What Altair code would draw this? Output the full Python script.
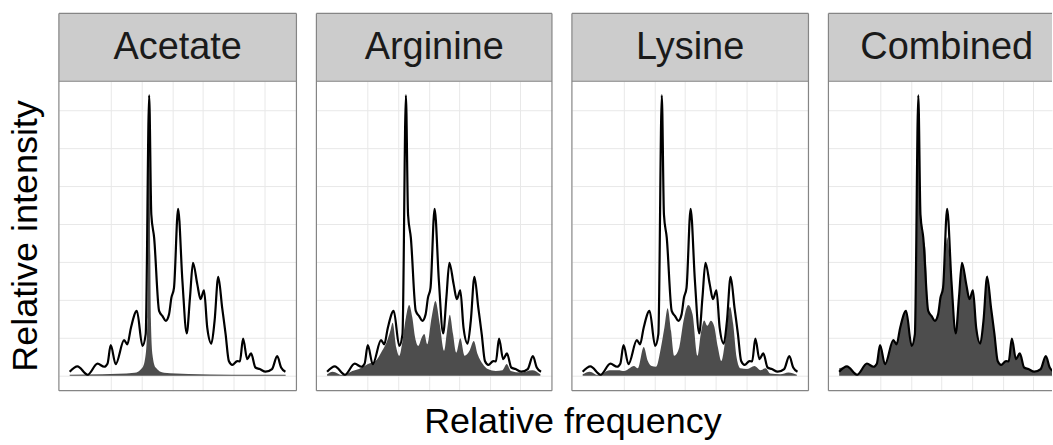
import altair as alt
import pandas as pd

panel_names = ["Acetate", "Arginine", "Lysine", "Combined"]
panel_widths = [238, 236, 237, 224]      # visible plot widths (last panel is cut by the page edge)
full_widths = [238, 236, 237, 237]       # nominal widths (for scale and strip label centring)

# observed spectrum (black line), shared by all panels
line_x = [0, 3.6, 8.3, 12.9, 16.0, 17.5, 19.0, 21.3, 25.2, 26.7, 28.3, 31.1, 33.7, 35.2, 36.8, 37.8, 39.1, 41.4, 42.9, 44.5,
          46.0, 47.1, 48.3, 50.2, 52.2, 54.2, 55.7, 57.1, 59.1, 60.6, 62.2, 63.7, 65.6, 67.1, 68.8, 70.6, 72.2, 73.7, 75.3, 77.6,
          78.8, 80.3, 82.2, 84.0, 86.0, 88.0, 90.7, 93.7, 96.1, 97.9, 99.9]
line_y = [0.11, 0.25, 0.03, 0.32, 0.24, 0.32, 0.81, 0.31, 0.94, 0.83, 1.25, 1.71, 0.79, 1.10, 7.39, 4.25, 3.64, 1.71, 1.58, 1.45,
          1.62, 2.06, 2.32, 4.40, 2.50, 1.12, 2.06, 2.98, 2.41, 2.02, 2.25, 1.27, 0.85, 1.45, 2.61, 1.80, 1.10, 0.39, 0.29, 0.39,
          0.38, 0.98, 0.44, 0.59, 0.22, 0.18, 0.11, 0.18, 0.52, 0.22, 0.11]

# simulated spectra (grey areas)
acetate_x = [0, 15, 30, 33.7, 35.2, 36.0, 36.8, 37.6, 38.3, 39.8, 43.7, 55, 75, 100]
acetate_y = [0.03, 0.04, 0.08, 0.22, 0.57, 1.5, 7.3, 1.5, 0.57, 0.22, 0.08, 0.05, 0.03, 0.03]

arginine_x = [0, 2.6, 7.2, 11.8, 14.9, 19.1, 22.6, 25.7, 28.0, 29.5, 30.6, 32.3, 33.7, 35.2, 36.8, 38.3, 39.8, 41.1, 42.6, 44.2,
              45.4, 46.8, 48.8, 50.6, 52.6, 54.6, 56.0, 57.3, 58.8, 60.3, 62.2, 64.2, 66.5, 68.5, 70.3, 72.7, 75.0, 78.8, 81.9, 83.9,
              85.8, 90.4, 95.8, 99.6]
arginine_y = [0.04, 0.11, 0.02, 0.13, 0.18, 0.31, 0.39, 0.66, 0.92, 1.18, 1.40, 0.75, 0.53, 0.92, 1.54, 1.87, 1.54, 1.01, 0.79, 1.01,
              1.10, 0.83, 1.54, 1.97, 1.36, 0.66, 1.18, 1.61, 1.10, 0.61, 0.99, 0.53, 0.66, 0.92, 0.57, 0.31, 0.18, 0.13, 0.15, 0.31,
              0.13, 0.09, 0.15, 0.04]

lysine_x = [0, 3.3, 7.2, 12.6, 16.4, 19.5, 21.8, 23.8, 25.7, 28.4, 30.3, 32.1, 34.1, 36.4, 38.0, 39.5, 41.1, 42.6, 44.9, 46.9,
            49.1, 51.1, 53.4, 54.9, 56.5, 58.0, 59.6, 61.1, 62.9, 64.5, 66.5, 68.5, 70.0, 71.6, 73.4, 76.5, 79.9, 82.7, 85.0, 87.3,
            91.9, 95.7, 99.6]
lysine_y = [0.04, 0.11, 0.02, 0.15, 0.15, 0.13, 0.20, 0.26, 0.20, 0.76, 0.39, 0.26, 0.24, 0.75, 1.27, 1.78, 1.18, 0.53, 0.75, 1.45,
            1.87, 1.62, 0.53, 1.10, 1.46, 1.32, 1.45, 1.32, 0.75, 0.39, 1.01, 1.82, 1.36, 0.48, 0.20, 0.18, 0.26, 0.15, 0.20, 0.06,
            0.04, 0.09, 0.03]

combined_x = [0, 3.6, 8.3, 12.9, 16.0, 17.5, 19.0, 21.3, 25.2, 26.7, 28.3, 31.1, 33.7, 35.2, 36.8, 37.8, 39.1, 40.0, 41.4, 42.9,
              44.5, 46.0, 47.1, 48.3, 50.2, 52.2, 54.2, 55.7, 57.1, 59.1, 60.6, 62.2, 63.7, 65.6, 67.1, 68.8, 70.6, 72.2, 73.7, 75.3,
              77.6, 78.8, 80.3, 82.2, 84.0, 86.0, 88.0, 90.7, 93.7, 96.1, 97.9, 99.9]
combined_y = [0.2, 0.24, 0.05, 0.3, 0.24, 0.3, 0.78, 0.3, 0.92, 0.83, 1.27, 1.70, 0.78, 1.08, 6.9, 4.2, 3.6, 3.4, 1.72, 1.56,
              1.45, 1.6, 2.0, 2.3, 3.65, 2.45, 1.1, 2.0, 2.9, 2.4, 2.0, 2.2, 1.25, 0.83, 1.43, 2.65, 1.78, 1.08, 0.37, 0.29,
              0.37, 0.38, 0.95, 0.42, 0.57, 0.21, 0.17, 0.11, 0.17, 0.5, 0.21, 0.11]

x_grid = [19.0, 33.3, 47.5, 61.7, 76.0, 90.2]
y_grid = [0, 1, 2, 3, 4, 5, 6, 7]

areas = [(acetate_x, acetate_y), (arginine_x, arginine_y), (lysine_x, lysine_y), (combined_x, combined_y)]

FONT = "Liberation Sans"
BORDER = "#858585"
H = 310
STRIP = 68

line_df = pd.DataFrame({"x": line_x, "y": line_y})
one = pd.DataFrame({"k": [0]})


def rule(x, x2, y, y2):
    return alt.Chart(one).mark_rule(color=BORDER, strokeWidth=1.2).encode(
        x=alt.value(x), x2=alt.value(x2), y=alt.value(y), y2=alt.value(y2)
    )


def panel(i):
    name = panel_names[i]
    w = panel_widths[i]
    fw = full_widths[i]
    gx, gy = areas[i]
    area_df = pd.DataFrame({"x": gx, "y": gy})
    x_hi = -5 + 110 * w / fw
    xs = alt.Scale(domain=[-5, x_hi], nice=False, zero=False)
    ys = alt.Scale(domain=[-0.39, 7.76], nice=False, zero=False)
    xa = alt.Axis(values=x_grid, labels=False, ticks=False, domain=False, title=None, grid=True,
                  gridColor="#E8E8E8", gridWidth=1)
    ya = alt.Axis(values=y_grid, labels=False, ticks=False, domain=False, title=None, grid=True,
                  gridColor="#E8E8E8", gridWidth=1)
    area = alt.Chart(area_df).mark_area(color="#4D4D4D", interpolate="monotone", clip=True).encode(
        x=alt.X("x:Q", scale=xs, axis=xa),
        y=alt.Y("y:Q", scale=ys, axis=ya),
        y2=alt.datum(0),
    )
    line = alt.Chart(line_df).mark_line(color="black", strokeWidth=2.2, interpolate="monotone", clip=True).encode(
        x=alt.X("x:Q", scale=xs, axis=xa),
        y=alt.Y("y:Q", scale=ys, axis=ya),
    )
    strip = alt.Chart(one).mark_rect(fill="#CCCCCC").encode(
        x=alt.value(0), x2=alt.value(w), y=alt.value(-STRIP), y2=alt.value(0)
    )
    label = alt.Chart(one).mark_text(fontSize=38, font=FONT, color="#1A1A1A", align="center", baseline="middle").encode(
        x=alt.value(fw / 2), y=alt.value(-STRIP / 2 + 1), text=alt.value(name)
    )
    borders = [
        rule(0, 0, -STRIP, H),          # left edge
        rule(0, w, -STRIP, -STRIP),     # strip top
        rule(0, w, 0, 0),               # strip bottom / panel top
        rule(0, w, H, H),               # panel bottom
    ]
    if i < 3:
        borders.append(rule(w, w, -STRIP, H))
    layers = [area, line, strip, label] + borders
    if i == 0:
        ytitle = alt.Chart(one).mark_text(fontSize=36, font=FONT, color="black", align="center", baseline="middle",
                                          angle=270).encode(
            x=alt.value(-33), y=alt.value(H / 2), text=alt.value("Relative intensity")
        )
        xtitle = alt.Chart(one).mark_text(fontSize=36, font=FONT, color="black", align="center", baseline="middle").encode(
            x=alt.value(515), y=alt.value(341), text=alt.value("Relative frequency")
        )
        layers += [ytitle, xtitle]
    return alt.layer(*layers).properties(width=w, height=H)


chart = alt.hconcat(*[panel(i) for i in range(4)], spacing=20, bounds="flush").properties(
    padding={"left": 7, "top": 12, "right": 0, "bottom": 0}
).configure_view(stroke="transparent", strokeWidth=0)

chart.save("out.html", embed_options={"renderer": "svg", "actions": False})
